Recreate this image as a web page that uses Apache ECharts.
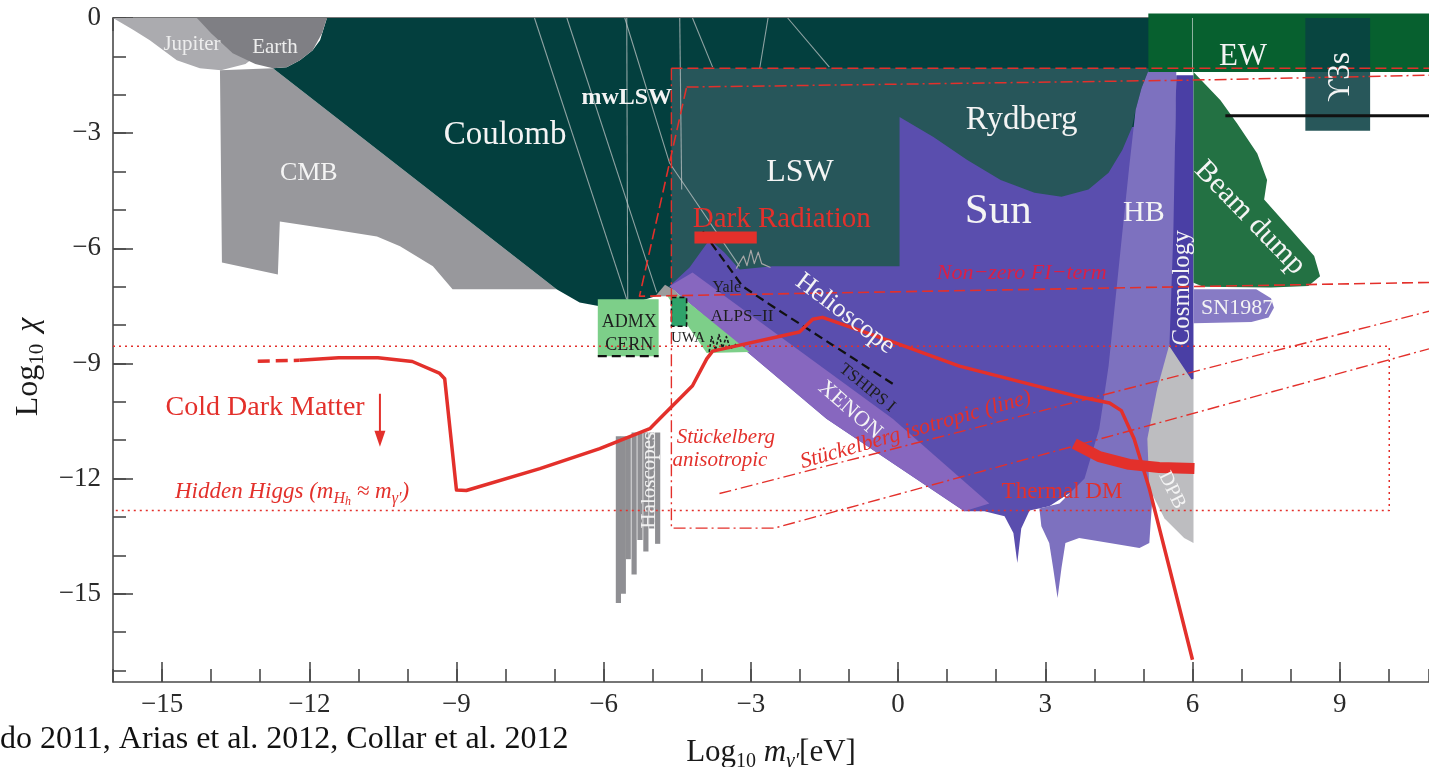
<!DOCTYPE html>
<html>
<head>
<meta charset="utf-8">
<title>Hidden photon limits</title>
<script src="https://cdn.jsdelivr.net/npm/echarts@6/dist/echarts.min.js"></script>
<style>
html, body { margin: 0; padding: 0; background: #ffffff; }
#chart { width: 1429px; height: 767px; }
</style>
</head>
<body>
<div id="chart"></div>
<script>
// ---- axes: log10 of hidden photon mass [eV] vs log10 of kinetic mixing chi ----
const xRange = [-16, 10.82];
const yRange = [-17.3, 0];
const xTickLabels = [-15, -12, -9, -6, -3, 0, 3, 6, 9];
const yTickLabels = [0, -3, -6, -9, -12, -15];
const yMinorTicks = [-17, -16, -15, -14, -13, -12, -11, -10, -9, -8, -7, -6, -5, -4, -3, -2, -1, 0];

// ---- excluded regions, outlines as [log10 m, log10 chi] ----
const jupiter = [[-16, 0], [-15.6, -0.3], [-15.25, -0.58], [-14.7, -1.1], [-14.23, -1.31], [-13.8, -1.36], [-13.3, -1.2], [-12.9, -0.8], [-12.6, -0.3], [-12.5, 0]];
const earth = [[-14.29, 0], [-14.0, -0.4], [-13.56, -0.92], [-13.1, -1.2], [-12.74, -1.31], [-12.46, -1.28], [-12.19, -1.10], [-11.93, -0.84], [-11.74, -0.4], [-11.64, 0]];
const cmb = [[-13.82, -1.36], [-12.74, -1.31], [-6.96, -7.07], [-9.08, -7.07], [-9.48, -6.47], [-10.15, -5.95], [-10.62, -5.69], [-11.52, -5.51], [-12.60, -5.30], [-12.64, -6.68], [-13.78, -6.37]];
const coulomb = [[-11.64, 0], [-11.78, -0.58], [-11.93, -0.84], [-12.19, -1.10], [-12.46, -1.28], [-12.74, -1.31], [-6.96, -7.07], [-6.49, -7.41], [-6.08, -7.51], [-5.47, -7.46], [-4.86, -7.22], [-4.62, -7.07], [5.12, -7.07], [5.12, 0]];
const lsw = [[-4.62, -1.31], [5.12, -1.31], [4.96, -1.83], [4.84, -2.40], [4.10, -7.07], [-4.62, -7.07]];
const sun = [[-4.66, -6.99], [-4.25, -6.50], [-3.84, -5.77], [-3.54, -6.11], [-3.23, -6.55], [-2.56, -6.47], [0.03, -6.47], [0.03, -2.58], [0.72, -3.10], [1.41, -3.70], [2.09, -4.22], [2.78, -4.55], [3.33, -4.66], [3.88, -4.47], [4.29, -4.03], [4.57, -3.44], [4.77, -2.84], [4.95, -2.84], [4.71, -7.33], [4.31, -10.70], [3.80, -12.13], [3.08, -12.72], [2.68, -12.83], [2.51, -13.30], [2.43, -14.20], [2.35, -13.42], [2.17, -12.98], [1.76, -12.85], [1.35, -12.85], [-1.46, -10.44]];
const xenon = [[-4.66, -6.99], [-4.19, -6.63], [-0.11, -10.44], [1.86, -12.65], [1.35, -12.85], [-1.46, -10.44]];
const hb = [[5.12, -1.31], [5.67, -1.41], [5.61, -8.55], [5.32, -9.92], [5.12, -13.68], [4.92, -13.81], [4.31, -13.68], [3.69, -13.55], [3.41, -13.68], [3.33, -14.33], [3.25, -15.11], [3.16, -14.33], [3.08, -13.68], [2.92, -13.24], [2.88, -12.78], [3.29, -12.65], [3.80, -12.0], [4.10, -10.70], [4.29, -9.07], [4.43, -7.33], [4.57, -5.59], [4.71, -3.88], [4.84, -2.40], [4.96, -1.83]];
const dpb = [[5.53, -8.50], [6.02, -8.50], [6.02, -13.68], [5.83, -13.55], [5.43, -13.04], [5.12, -12.26], [5.08, -10.96], [5.28, -9.66]];
const cosmology = [[5.67, -1.49], [6.02, -1.49], [6.02, -9.40], [5.98, -9.42], [5.53, -8.55], [5.61, -5.59]];
const ew = [[5.10, 0.12], [10.82, 0.12], [10.82, -1.41], [5.10, -1.41]];
const upsilonInEW = [[8.30, 0], [9.62, 0], [9.62, -1.41], [8.30, -1.41]];
const upsilon = [[8.30, -1.41], [9.62, -1.41], [9.62, -2.94], [8.30, -2.94]];
const beamDump = [[6.02, -1.41], [6.57, -2.14], [6.91, -2.75], [7.32, -3.53], [7.52, -4.22], [7.46, -4.73], [7.95, -5.43], [8.48, -6.2], [8.6, -6.73], [8.36, -6.98], [7.6, -7.02], [6.22, -7.0], [6.02, -6.9]];
const sn1987 = [[6.02, -7.07], [7.3, -7.07], [7.6, -7.3], [7.66, -7.55], [7.55, -7.8], [7.2, -7.92], [6.02, -7.95]];
const admx = [[-6.12, -7.33], [-4.88, -7.33], [-4.88, -8.81], [-6.12, -8.81]];
const uwa = [[-4.62, -7.28], [-4.31, -7.28], [-4.31, -8.03], [-4.62, -8.03]];
const alps = [[-4.70, -7.25], [-4.62, -7.05], [-3.03, -8.70], [-3.90, -8.73]];
const yaleBump = [[-4.95, -7.25], [-4.75, -6.95], [-4.55, -7.1], [-4.45, -7.25]];
// haloscope exclusions: [log10 m, upper chi, lower chi]
const haloscopes = [[-5.70, -10.9, -15.24], [-5.60, -10.9, -15.0], [-5.50, -10.9, -14.1], [-5.38, -10.8, -14.5], [-5.26, -10.8, -13.6], [-5.14, -10.8, -13.9], [-5.02, -10.8, -13.3], [-4.90, -10.8, -13.7]];

// ---- individual experiment curves ----
const lswCurves = [
  [[-7.41, 0], [-5.53, -7.33]],
  [[-6.75, 0], [-4.92, -7.15]],
  [[-5.53, 0], [-5.51, -7.40]],
  [[-5.57, 0], [-4.66, -3.77], [-3.23, -6.47]],
  [[-4.45, 0], [-4.41, -4.47]],
  [[-4.19, 0], [-3.78, -1.28]],
  [[-2.65, 0], [-2.82, -1.31]],
  [[-2.25, 0], [-1.40, -1.28]]
];
const yaleWiggle = [[-3.30, -6.53], [-3.15, -6.2], [-3.08, -6.45], [-3.0, -6.05], [-2.93, -6.4], [-2.85, -6.1], [-2.78, -6.4], [-2.6, -6.5]];
const tships = [[-3.98, -5.56], [-3.17, -6.99], [-2.56, -7.51], [-0.11, -9.53]];
const admxLine = [[-6.12, -8.81], [-4.88, -8.81]];
const uwaOutline = [[-4.62, -7.28], [-4.31, -7.28], [-4.31, -8.03], [-4.62, -8.03], [-4.62, -7.28]];
const alpsTwo = [[-3.85, -8.7], [-3.8, -8.3], [-3.72, -8.65], [-3.65, -8.25], [-3.58, -8.6], [-3.5, -8.3], [-3.42, -8.62], [-3.3, -8.5]];
const babar = [[6.67, -2.55], [10.82, -2.55]];
const ewEdge = [[6.0, 0], [6.0, -1.41]];

// ---- cosmology / theory curves ----
const cdmDashed = [[-13.05, -8.94], [-12.2, -8.92]];
const cdm = [[-12.2, -8.92], [-11.4, -8.85], [-10.6, -8.85], [-9.9, -8.95], [-9.35, -9.25], [-9.24, -9.4], [-9.0, -12.3], [-8.8, -12.31], [-7.3, -11.74], [-6.08, -11.22], [-5.06, -10.7], [-4.86, -10.44], [-4.19, -9.58], [-3.9, -8.88], [-3.78, -8.68], [-2.01, -8.18], [-1.74, -7.85], [-1.54, -7.8], [-0.11, -8.44], [1.25, -9.07], [3.69, -9.87], [4.31, -10.03], [4.55, -10.23], [4.81, -10.96], [5.12, -12.26], [5.53, -14.33], [6.0, -16.72]];
const cdmArrow = [[-10.56, -9.79], [-10.56, -10.96]];
const darkRadiation = [[-4.15, -5.72], [-2.88, -5.72]];
const thermalDM = [[3.59, -11.09], [4.1, -11.43], [4.71, -11.63], [5.32, -11.71], [6.04, -11.74]];
const hiddenHiggs = [[-16, -8.55], [10.01, -8.55], [10.01, -12.83], [-16, -12.83]];
const anisoTop = [[-4.62, -1.31], [10.82, -1.31]];
const aniso = [[-4.62, -1.31], [-4.62, -13.29], [-2.52, -13.29], [10.82, -8.62]];
const isotropic = [[-3.64, -12.39], [10.82, -7.64]];
const fiLower = [[10.82, -6.89], [-5.27, -7.25], [-4.31, -1.80]];
const fiUpper = [[-4.31, -1.80], [5.93, -1.62], [10.82, -1.49]];

// ---- region / curve names and their anchor points ----
const notes = [
  ['Jupiter', -14.39, -0.68],
  ['Earth', -12.70, -0.76],
  ['CMB', -12.01, -4.04],
  ['Coulomb', -8.01, -3.05],
  ['mwLSW', -5.53, -2.08],
  ['LSW', -2.0, -4.04],
  ['Dark Radiation', -2.37, -5.26],
  ['Rydberg', 2.52, -2.66],
  ['Sun', 2.04, -5.05],
  ['HB', 5.01, -5.08],
  ['Cosmology', 5.79, -7.03],
  ['SN1987', 6.91, -7.56],
  ['EW', 7.03, -1.02],
  ['ϒ3s', 9.03, -1.54],
  ['Beam dump', 7.17, -5.21],
  ['Non−zero FI−term', 2.52, -6.64],
  ['Helioscope', -1.08, -7.71],
  ['XENON', -0.98, -10.21],
  ['TSHIPS I', -0.63, -9.64],
  ['Yale', -3.49, -7.03],
  ['ALPS−II', -3.18, -7.79],
  ['UWA', -4.28, -8.34],
  ['ADMX', -5.48, -7.92],
  ['CERN', -5.48, -8.52],
  ['Haloscopes', -5.06, -12.04],
  ['Stückelberg', -3.51, -10.92],
  ['anisotropic', -3.63, -11.52],
  ['Stückelberg isotropic (line)', 0.36, -10.73],
  ['Hidden Higgs', -12.35, -12.35],
  ['Cold Dark Matter', -12.90, -10.16],
  ['Thermal DM', 3.34, -12.35],
  ['DPB', 5.58, -12.30]
];

// ---------------- styling ----------------
const SERIF = '"Liberation Serif", "Times New Roman", serif';
const RED = '#e3302b';
const WHITE = '#f4f4f4';
const DARK = '#1e1e1e';
const AXIS = '#4a4a4a';

const noteStyle = {
  'Jupiter': { size: 21, color: '#ededed' },
  'Earth': { size: 21, color: '#ededed' },
  'CMB': { size: 26 },
  'Coulomb': { size: 33 },
  'mwLSW': { size: 24, weight: 'bold' },
  'LSW': { size: 32 },
  'Dark Radiation': { size: 29, color: RED },
  'Rydberg': { size: 33 },
  'Sun': { size: 43 },
  'HB': { size: 30 },
  'Cosmology': { size: 25, rotate: 90 },
  'SN1987': { size: 22 },
  'EW': { size: 31 },
  'ϒ3s': { size: 31, rotate: 90 },
  'Beam dump': { size: 30, rotate: -46 },
  'Non−zero FI−term': { size: 22, color: '#dc1f45', italic: true },
  'Helioscope': { size: 26, rotate: -37 },
  'XENON': { size: 22, rotate: -41 },
  'TSHIPS I': { size: 17, rotate: -39, color: DARK },
  'Yale': { size: 16, color: DARK },
  'ALPS−II': { size: 17, color: DARK },
  'UWA': { size: 15, color: DARK },
  'ADMX': { size: 18, color: DARK },
  'CERN': { size: 18, color: DARK },
  'Haloscopes': { size: 21, rotate: 90, color: '#f0f0f0' },
  'Stückelberg': { size: 21, color: RED, italic: true },
  'anisotropic': { size: 21, color: RED, italic: true },
  'Stückelberg isotropic (line)': { size: 22, color: RED, italic: true, rotate: 16 },
  'Hidden Higgs': { size: 23, color: RED, italic: true, rich: 'Hidden Higgs (m{s|H}{ss|h} ≈ m{s|γ′})' },
  'Cold Dark Matter': { size: 28, color: RED },
  'Thermal DM': { size: 23, color: RED },
  'DPB': { size: 20, rotate: -64 }
};

const chart = echarts.init(document.getElementById('chart'));

function region(name, pts, fill, z) {
  return {
    type: 'custom', name: name, coordinateSystem: 'cartesian2d', silent: true, clip: false, z: z,
    data: pts,
    renderItem: function (params, api) {
      if (params.dataIndex !== 0) return null;
      return {
        type: 'polygon',
        shape: { points: pts.map(function (p) { return api.coord(p); }) },
        style: { fill: fill }
      };
    }
  };
}

function curve(name, pts, color, width, dash, z) {
  return {
    type: 'line', name: name, data: pts, symbol: 'none', showSymbol: false, silent: true, clip: false, z: z,
    lineStyle: { color: color, width: width, type: dash || 'solid', cap: 'butt', join: 'round' }
  };
}

const DASH = [11, 5];
const DASHDOT = [12, 4, 2, 4];
const DOT = [2, 4];

const series = [
  region('CMB', cmb, '#98989c', 1),
  region('Coulomb', coulomb, '#033f3e', 2),
  region('Jupiter', jupiter, '#ababaf', 3),
  region('Earth', earth, '#7f7f84', 4),
  region('LSW', lsw, '#27565a', 5),
  region('Sun', sun, '#5a4eae', 6),
  region('XENON', xenon, '#8767bf', 7),
  region('HB', hb, '#7d71bf', 8),
  region('DPB', dpb, '#bdbdc0', 9),
  region('Cosmology', cosmology, '#4a3fa5', 10),
  region('EW', ew, '#07602f', 11),
  region('Beam dump', beamDump, '#237143', 12),
  region('Upsilon EW', upsilonInEW, '#084540', 13),
  region('Upsilon', upsilon, '#28575a', 13),
  region('SN1987', sn1987, '#877bc5', 12),
  region('ADMX', admx, '#7dcf89', 14),
  region('ALPS', alps, '#7dcf89', 14),
  region('UWA', uwa, '#2fa36a', 15),
  region('Yale', yaleBump, '#9c9c9c', 15),
  {
    type: 'custom', name: 'Haloscopes', coordinateSystem: 'cartesian2d', silent: true, z: 15,
    data: haloscopes,
    renderItem: function (params, api) {
      const top = api.coord([api.value(0), api.value(1)]);
      const bottom = api.coord([api.value(0), api.value(2)]);
      return { type: 'rect', shape: { x: top[0] - 2.6, y: top[1], width: 5.2, height: bottom[1] - top[1] }, style: { fill: '#8f8f93' } };
    }
  }
];

lswCurves.forEach(function (c, i) { series.push(curve('LSW ' + i, c, 'rgba(190,196,196,0.75)', 1.1, 'solid', 5.5)); });
series.push(curve('Yale wiggle', yaleWiggle, '#a7a7a7', 1.2, 'solid', 16));
series.push(curve('EW edge', ewEdge, 'rgba(180,200,190,0.8)', 1, 'solid', 12));
series.push(curve('TSHIPS', tships, '#111111', 2.2, [9, 5], 20));
series.push(curve('ADMX limit', admxLine, '#111111', 2.2, [9, 5], 20));
series.push(curve('UWA limit', uwaOutline, '#111111', 1.6, [5, 3], 20));
series.push(curve('ALPS-II', alpsTwo, '#1a1a1a', 1.6, [3, 2], 20));
series.push(curve('BaBar', babar, '#111111', 3, 'solid', 20));

series.push(curve('Hidden Higgs', hiddenHiggs, RED, 1.5, DOT, 21));
series.push(curve('Stueckelberg aniso top', anisoTop, RED, 1.6, DASH, 21));
series.push(curve('Stueckelberg aniso', aniso, RED, 1.4, DASHDOT, 21));
series.push(curve('Stueckelberg iso', isotropic, RED, 1.4, DASHDOT, 21));
series.push(curve('FI lower', fiLower, RED, 1.6, DASH, 21));
series.push(curve('FI upper', fiUpper, RED, 1.5, DASHDOT, 21));
series.push(curve('CDM dashed', cdmDashed, RED, 3.5, [12, 6], 22));
series.push(curve('CDM', cdm, RED, 3.5, 'solid', 22));
series.push(curve('Dark radiation', darkRadiation, RED, 12, 'solid', 22));
series.push(curve('Thermal DM', thermalDM, RED, 11, 'solid', 22));
series.push({
  type: 'line', name: 'CDM arrow', silent: true, z: 22, showSymbol: true,
  data: cdmArrow.map(function (p, i) {
    return i === 0 ? { value: p, symbol: 'none' } : { value: p, symbol: 'triangle', symbolSize: [11, 16], symbolRotate: 180, itemStyle: { color: RED } };
  }),
  lineStyle: { color: RED, width: 2 }
});

// text annotations, positioned through the cartesian coordinate system
series.push({
  type: 'custom', name: 'notes', coordinateSystem: 'cartesian2d', silent: true, clip: false, z: 40,
  data: notes.map(function (n) { return [n[1], n[2]]; }),
  renderItem: function (params, api) {
    const name = notes[params.dataIndex][0];
    const st = noteStyle[name] || {};
    const size = st.size || 22;
    const p = api.coord([api.value(0), api.value(1)]);
    const fstyle = st.italic ? 'italic' : 'normal';
    const color = st.color || WHITE;
    return {
      type: 'text', x: p[0], y: p[1], rotation: (st.rotate || 0) * Math.PI / 180,
      style: {
        text: st.rich || name,
        fill: color,
        fontFamily: SERIF, fontSize: size, fontStyle: fstyle, fontWeight: st.weight || 'normal',
        align: 'center', verticalAlign: 'middle',
        rich: {
          s: { fontFamily: SERIF, fontSize: Math.round(size * 0.68), fontStyle: fstyle, fill: color, padding: [Math.round(size * 0.55), 0, 0, 0] },
          ss: { fontFamily: SERIF, fontSize: Math.round(size * 0.5), fontStyle: fstyle, fill: color, padding: [Math.round(size * 0.85), 0, 0, 0] }
        }
      }
    };
  }
});

function minus(v) { return String(v).replace('-', '\u2212'); }
const tickFont = { fontFamily: SERIF, fontSize: 27, color: '#2a2a2a' };
const axisLine = { show: true, onZero: false, lineStyle: { color: AXIS, width: 1.6 } };
const tickLine = { color: AXIS, width: 1.6 };

function xAxisDef(pos, major, withLabels) {
  const a = {
    type: 'value', min: xRange[0], max: xRange[1], position: pos, gridIndex: 0,
    axisLine: major ? { show: false, onZero: false } : axisLine,
    splitLine: { show: false },
    axisTick: major ? { show: true, inside: true, length: 20, customValues: xTickLabels, lineStyle: tickLine }
                    : { show: true, inside: true, length: 13, interval: 1, lineStyle: tickLine },
    axisLabel: withLabels ? Object.assign({ show: true, margin: 9, customValues: xTickLabels, formatter: minus }, tickFont) : { show: false }
  };
  if (!major) a.interval = 1;
  return a;
}

const option = {
  animation: false,
  backgroundColor: '#ffffff',
  grid: { left: 113, right: 0, top: 18, bottom: 85, containLabel: false, outerBoundsMode: 'none' },
  xAxis: [
    Object.assign(xAxisDef('bottom', false, true), {
      name: 'Log{s|10} {m|m}{g|γ′}[eV]', nameLocation: 'middle', nameGap: 52,
      nameTextStyle: {
        fontFamily: SERIF, fontSize: 31, color: '#1a1a1a',
        rich: {
          s: { fontFamily: SERIF, fontSize: 20, color: '#1a1a1a', padding: [17, 0, 0, 0] },
          m: { fontFamily: SERIF, fontSize: 31, fontStyle: 'italic', color: '#1a1a1a' },
          g: { fontFamily: SERIF, fontSize: 21, fontStyle: 'italic', color: '#1a1a1a', padding: [17, 0, 0, 0] }
        }
      }
    }),
    xAxisDef('bottom', true, false),
    xAxisDef('top', false, false),
    xAxisDef('top', true, false)
  ],
  yAxis: [
    {
      type: 'value', min: yRange[0], max: yRange[1], position: 'left',
      axisLine: axisLine, splitLine: { show: false },
      axisTick: { show: true, inside: true, length: 13, customValues: yMinorTicks, lineStyle: tickLine },
      axisLabel: Object.assign({ show: true, margin: 12, customValues: yTickLabels, formatter: minus }, tickFont),
      name: 'Log{s|10} {c|χ}', nameLocation: 'middle', nameGap: 64, nameRotate: 90,
      nameTextStyle: {
        fontFamily: SERIF, fontSize: 32, color: '#1a1a1a', padding: [0, 34, 0, 0],
        rich: {
          s: { fontFamily: SERIF, fontSize: 21, color: '#1a1a1a', padding: [17, 0, 0, 0] },
          c: { fontFamily: SERIF, fontSize: 32, fontStyle: 'italic', color: '#1a1a1a', padding: [0, 0, 0, 4] }
        }
      }
    },
    {
      type: 'value', min: yRange[0], max: yRange[1], position: 'left',
      axisLine: { show: false, onZero: false }, splitLine: { show: false },
      axisTick: { show: true, inside: true, length: 20, customValues: yTickLabels, lineStyle: tickLine },
      axisLabel: { show: false }
    }
  ],
  graphic: [
    {
      type: 'text', left: 0, top: 724, silent: true,
      style: { text: 'do 2011, Arias et al. 2012, Collar et al. 2012', fontFamily: SERIF, fontSize: 32, fill: '#111111' }
    }
  ],
  series: series
};

chart.setOption(option);
</script>
</body>
</html>
